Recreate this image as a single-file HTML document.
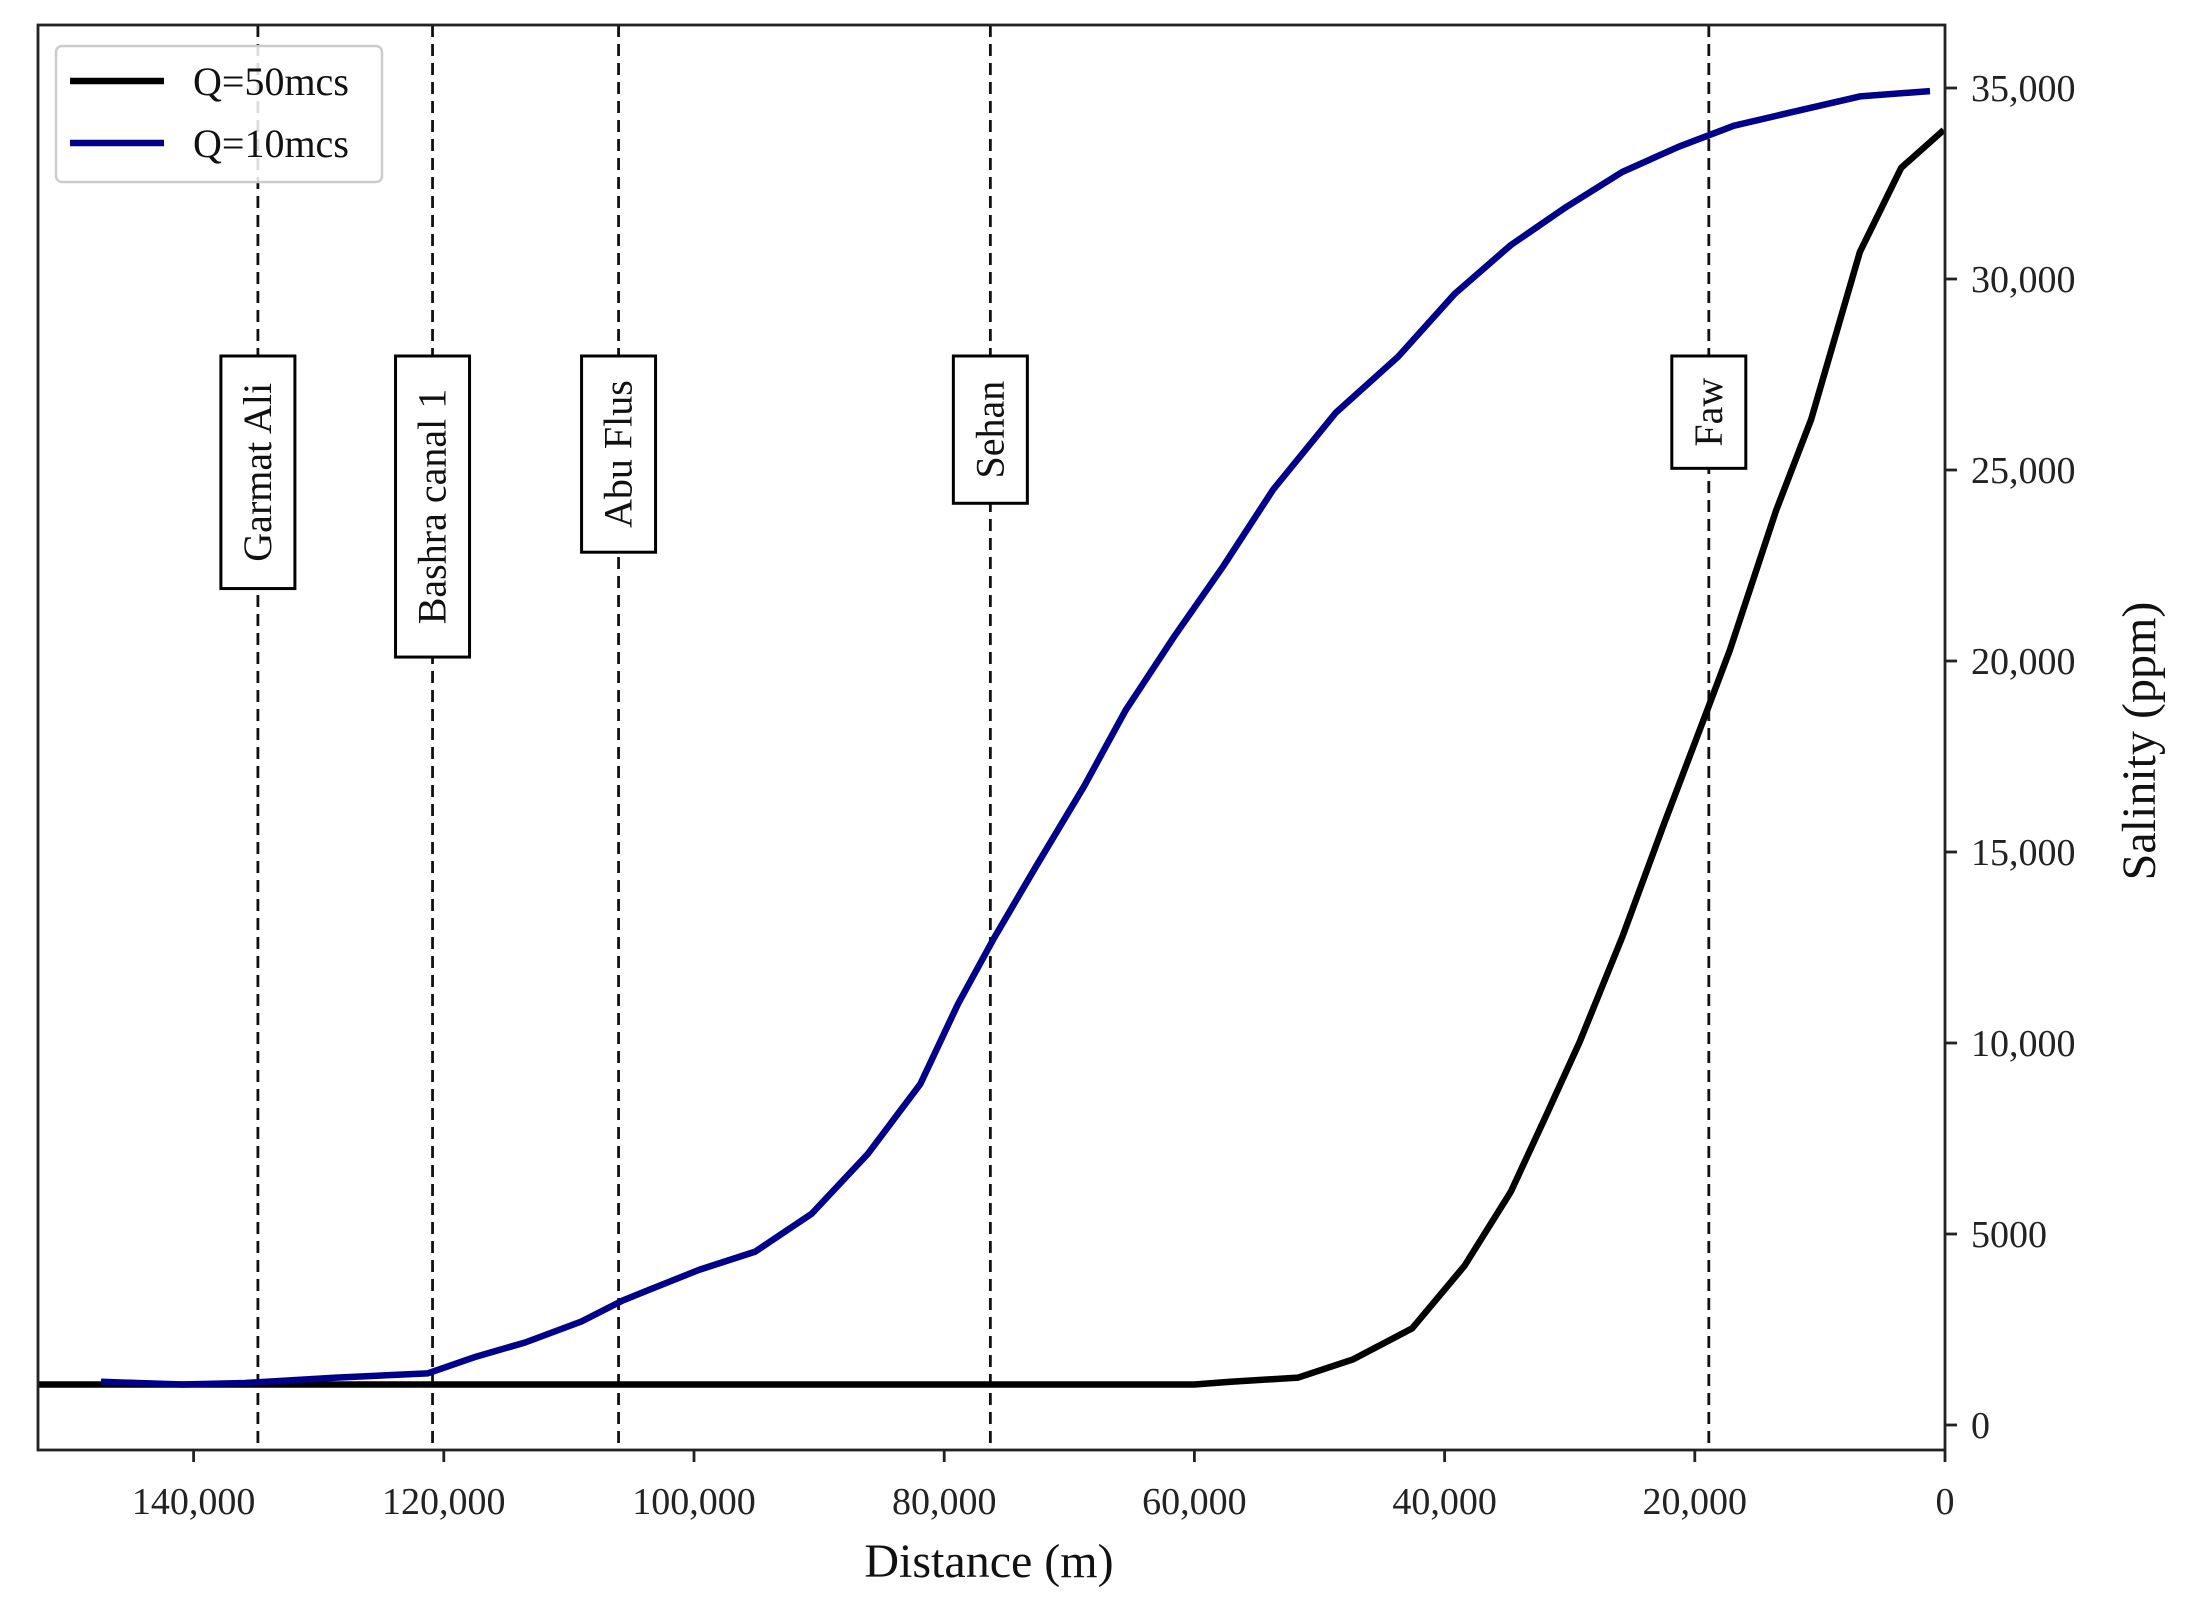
<!DOCTYPE html>
<html><head><meta charset="utf-8">
<style>
html,body{margin:0;padding:0;background:#fff;}
svg{display:block;font-family:"Liberation Serif","DejaVu Serif",serif;}
</style></head>
<body>
<svg id="chart" width="2190" height="1619" viewBox="0 0 2190 1619" xmlns="http://www.w3.org/2000/svg">
<rect x="0" y="0" width="2190" height="1619" fill="#fff"/>
<g id="marks"></g>
</svg>
<script>
const xTicks=[140000,120000,100000,80000,60000,40000,20000,0];
const xTickLabels=["140,000","120,000","100,000","80,000","60,000","40,000","20,000","0"];
const yTicks=[0,5000,10000,15000,20000,25000,30000,35000];
const yTickLabels=["0","5000","10,000","15,000","20,000","25,000","30,000","35,000"];
const stationNames=["Garmat Ali","Bashra canal 1","Abu Flus","Sehan","Faw"];
const stationDist=[134860,120900,106030,76310,18880];
const q50Dist=[152400,120000,90000,60000,57100,51700,47300,42600,38400,34700,32000,29200,25800,22500,18900,17200,13500,10700,6800,3500,100];
const q50Sal=[1060,1060,1060,1060,1130,1240,1720,2530,4170,6110,8020,10030,12770,15700,18810,20280,23940,26320,30710,32910,33900];
const q10Dist=[147400,140900,135900,128600,121300,117400,113500,109000,105700,103500,99600,95100,90600,86100,81900,78900,76100,72700,68800,65500,61600,57700,53700,48700,43700,39200,34700,30300,25800,21300,16900,11300,6800,1200];
const q10Sal=[1130,1060,1100,1240,1350,1790,2160,2710,3260,3550,4060,4540,5530,7100,8930,11020,12700,14600,16730,18710,20650,22480,24490,26500,27970,29610,30890,31880,32800,33460,34010,34440,34780,34920];

const L=38,R=1945,T=25,B=1450;
const X=d=>R-d*(250.2/20000);
const Y=v=>1425-v*(191/5000);
const NS="http://www.w3.org/2000/svg";
const g=document.getElementById('marks');
function mk(tag,attrs,parent){const e=document.createElementNS(NS,tag);for(const k in attrs)e.setAttribute(k,attrs[k]);(parent||g).appendChild(e);return e;}

const boxBottoms=[421,470,395,360,335].map(v=>v*1.398);
stationNames.forEach((n,i)=>{
  const x=X(stationDist[i]);
  const ln=mk('line',{x1:x,y1:T,x2:x,y2:B,stroke:'#111','stroke-width':2.8,'stroke-dasharray':'12,7'});
  
  
  const top=356,bot=boxBottoms[i];
  const bx=mk('rect',{x:x-37,y:top,width:74,height:bot-top,fill:'#fff',stroke:'#000','stroke-width':3});
  
  
  const t=mk('text',{x:0,y:0,'font-size':40,fill:'#111','text-anchor':'middle',transform:`translate(${x+13},${(top+bot)/2}) rotate(-90)`});
  t.textContent=n;
  
  
});

function series(dist,sal,color,name){
  const d=dist.map((v,i)=>(i?'L':'M')+Math.max(L,X(v)).toFixed(1)+','+Y(sal[i]).toFixed(1)).join(' ');
  const p=mk('path',{d:d,fill:'none',stroke:color,'stroke-width':6.5,'stroke-linejoin':'round'});
  
  
}
series(q50Dist,q50Sal,'#000','series-q50');
series(q10Dist,q10Sal,'#00008b','series-q10');

const fr=mk('rect',{x:L,y:T,width:R-L,height:B-T,fill:'none',stroke:'#222','stroke-width':2.8});



xTicks.forEach((v,i)=>{
  const x=X(v);
  mk('line',{x1:x,y1:B,x2:x,y2:B+12,stroke:'#222','stroke-width':2.8});
  const t=mk('text',{x:x,y:1514,'font-size':38,fill:'#222','text-anchor':'middle'});
  t.textContent=xTickLabels[i];
  
  
});
yTicks.forEach((v,i)=>{
  const y=Y(v);
  mk('line',{x1:R,y1:y,x2:R+12,y2:y,stroke:'#222','stroke-width':2.8});
  const t=mk('text',{x:1971,y:y+13,'font-size':38,fill:'#222'});
  t.textContent=yTickLabels[i];
  
  
});
const xt=mk('text',{x:989,y:1577,'font-size':48,fill:'#111','text-anchor':'middle'});
xt.textContent='Distance (m)';


const yt=mk('text',{x:0,y:0,'font-size':48,fill:'#111','text-anchor':'middle',transform:'translate(2155,741) rotate(-90)'});
yt.textContent='Salinity (ppm)';



const lg=mk('g',{});


mk('rect',{x:56,y:46,width:326,height:136,rx:6,fill:'rgba(255,255,255,0.85)',stroke:'#ccc','stroke-width':2.5},lg);
mk('line',{x1:70,y1:81,x2:164,y2:81,stroke:'#000','stroke-width':6.5},lg);
mk('line',{x1:70,y1:143,x2:164,y2:143,stroke:'#00008b','stroke-width':6.5},lg);
const l1=mk('text',{x:193,y:95,'font-size':40,fill:'#111'},lg);l1.textContent='Q=50mcs';


const l2=mk('text',{x:193,y:157,'font-size':40,fill:'#111'},lg);l2.textContent='Q=10mcs';


</script>
</body></html>
